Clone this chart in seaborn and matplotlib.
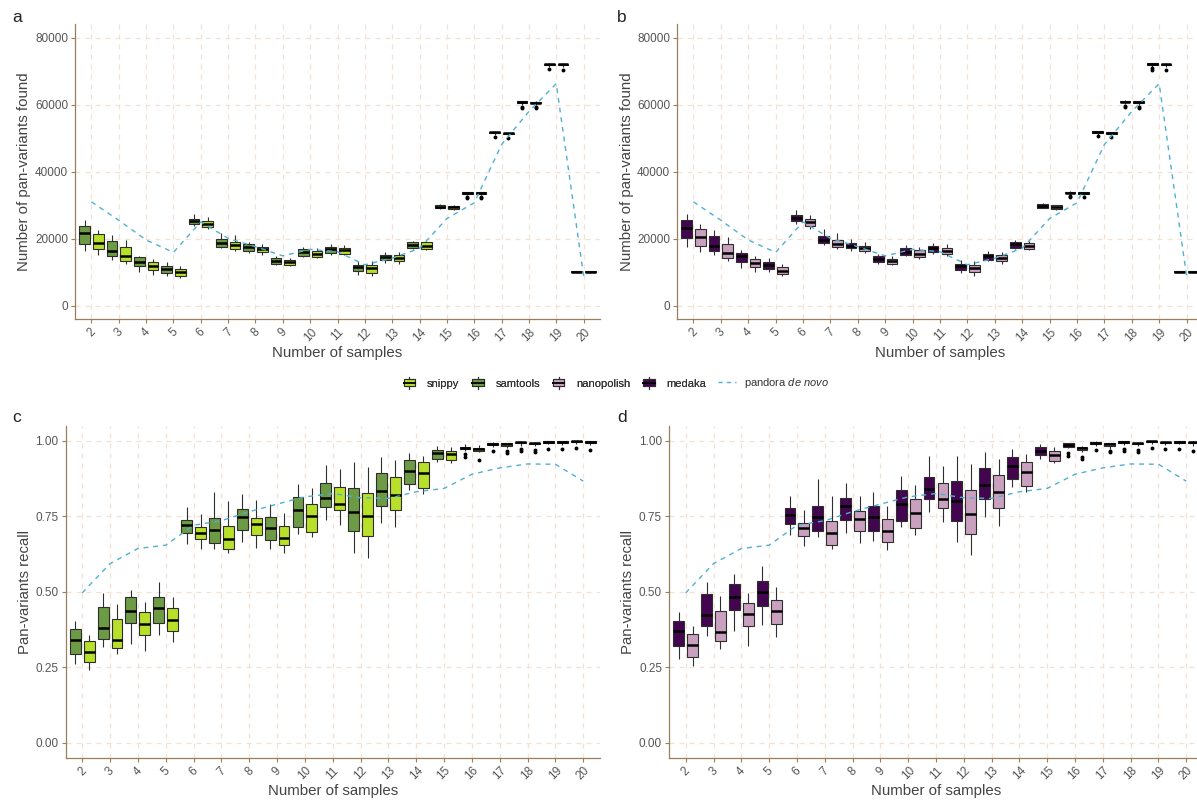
import numpy as np
import pandas as pd
import matplotlib
matplotlib.use("Agg")
import matplotlib.pyplot as plt
import seaborn as sns
from matplotlib.legend_handler import HandlerBase
from matplotlib.patches import Rectangle
from matplotlib.lines import Line2D

plt.rcParams['font.family'] = ['Liberation Sans', 'DejaVu Sans']
plt.rcParams['mathtext.fontset'] = 'custom'
plt.rcParams['mathtext.it'] = 'Liberation Sans:italic'
plt.rcParams['mathtext.rm'] = 'Liberation Sans'

# ---------------- data ----------------
samples = [str(n) for n in range(2, 21)]
tools = ["snippy", "samtools", "nanopolish", "medaka"]

# box stats per sample count: (lower whisker, Q1, median, Q3, upper whisker)
a_samtools = [(16400, 18500, 21600, 23800, 25500), (13500, 14800, 16400, 19200, 21100),
              (9900, 11800, 13100, 14500, 14900), (8700, 9700, 10900, 11700, 12900),
              (23800, 24400, 25300, 26000, 27500), (17100, 17400, 18800, 19800, 21800),
              (15600, 16400, 17400, 18300, 19100), (12000, 12500, 13400, 14100, 14700),
              (14400, 14700, 16100, 16800, 17600), (15100, 15800, 16800, 17500, 18500),
              (9000, 10200, 11400, 12000, 13200), (12700, 13500, 14500, 15100, 15900),
              (16800, 17100, 18000, 18900, 19200), (28900, 29100, 29600, 30000, 30300),
              (33000, 33400, 33650, 33900, 34000), (51000, 51500, 51750, 52000, 52100),
              (59900, 60500, 60750, 61000, 61100), (71200, 71800, 72050, 72300, 72400),
              (9800, 9950, 10100, 10200, 10300)]
a_snippy = [(15100, 17000, 18800, 21300, 22600), (12500, 13400, 14700, 17400, 19600),
            (9100, 10700, 11900, 13100, 13900), (8100, 8900, 9900, 10900, 11700),
            (22800, 23600, 24500, 25200, 26500), (16400, 16800, 18000, 19100, 21000),
            (15100, 15900, 16800, 17400, 18400), (11700, 12100, 12900, 13600, 14100),
            (14100, 14400, 15400, 16400, 17300), (15000, 15400, 16600, 17100, 18100),
            (8900, 9800, 11200, 12000, 13200), (12500, 13200, 14200, 15000, 15900),
            (16700, 16900, 17900, 18900, 19200), (28700, 28900, 29400, 29900, 30100),
            (32900, 33300, 33550, 33800, 33900), (50700, 51200, 51450, 51700, 51800),
            (59800, 60400, 60650, 60900, 61000), (71200, 71800, 72050, 72300, 72400),
            (9800, 9950, 10100, 10200, 10300)]
b_medaka = [(17600, 20100, 23300, 25500, 27500), (15000, 16300, 17900, 20900, 22600),
            (11200, 13100, 14700, 15600, 16500), (9900, 11000, 12200, 13000, 14200),
            (24400, 25300, 26300, 27100, 28500), (18100, 18600, 19600, 20700, 23000),
            (16300, 17100, 17900, 18800, 20000), (12500, 13000, 14000, 14700, 15300),
            (14700, 15000, 16000, 17200, 18100), (15400, 16100, 17100, 17700, 18800),
            (9700, 10700, 11700, 12400, 13500), (13200, 13700, 14900, 15400, 16400),
            (17000, 17300, 18400, 19100, 19500), (29100, 29300, 29900, 30400, 30600),
            (33100, 33500, 33750, 34000, 34100), (51100, 51600, 51850, 52100, 52200),
            (60100, 60700, 60950, 61200, 61300), (71400, 72000, 72250, 72500, 72600),
            (9800, 9950, 10100, 10200, 10300)]
b_nanopolish = [(16100, 17900, 20600, 22900, 24400), (13400, 14200, 15600, 18500, 20500),
                (9900, 11500, 12700, 14000, 14900), (8700, 9500, 10400, 11500, 12500),
                (23000, 23900, 25000, 25800, 27000), (17000, 17400, 18500, 19600, 21700),
                (15600, 16400, 17300, 17900, 18900), (12000, 12400, 13200, 13900, 14700),
                (14000, 14400, 15400, 16600, 17400), (14900, 15400, 16400, 17200, 18300),
                (8900, 9900, 11100, 12000, 13200), (12500, 13200, 14300, 15000, 16100),
                (16700, 17000, 17900, 18800, 19200), (28600, 28800, 29500, 30000, 30200),
                (32900, 33300, 33550, 33800, 33900), (50800, 51300, 51550, 51800, 51900),
                (59900, 60500, 60750, 61000, 61100), (71200, 71800, 72050, 72300, 72400),
                (9800, 9950, 10100, 10200, 10300)]
c_samtools = [(.259, .293, .339, .375, .402), (.317, .345, .380, .448, .497),
              (.328, .397, .435, .481, .507), (.358, .397, .446, .483, .531),
              (.657, .695, .720, .739, .781), (.643, .662, .704, .743, .829),
              (.663, .704, .749, .775, .823), (.641, .670, .710, .747, .789),
              (.691, .713, .770, .812, .857), (.737, .782, .809, .861, .920),
              (.629, .702, .765, .844, .928), (.726, .783, .833, .892, .945),
              (.836, .855, .901, .935, .960), (.930, .940, .958, .970, .983),
              (.967, .971, .975, .980, .989), (.980, .987, .990, .993, .996),
              (.984, .991, .995, .997, .999), (.988, .994, .997, .999, 1.0),
              (.989, .995, .998, 1.0, 1.0)]
c_snippy = [(.240, .267, .299, .337, .357), (.295, .314, .339, .408, .459),
            (.304, .355, .394, .434, .466), (.333, .371, .407, .445, .481),
            (.643, .674, .694, .713, .757), (.627, .641, .674, .718, .799),
            (.646, .687, .724, .745, .803), (.627, .653, .678, .718, .762),
            (.680, .698, .750, .789, .842), (.722, .770, .792, .846, .906),
            (.613, .684, .750, .828, .914), (.713, .772, .820, .881, .936),
            (.822, .845, .894, .928, .950), (.927, .936, .956, .966, .980),
            (.963, .967, .972, .976, .985), (.975, .983, .988, .991, .994),
            (.981, .988, .992, .994, .997), (.987, .993, .996, .998, .999),
            (.985, .992, .996, .998, .999)]
d_medaka = [(.278, .320, .369, .404, .434), (.352, .386, .422, .492, .533),
            (.370, .439, .483, .526, .557), (.391, .454, .498, .535, .586),
            (.687, .723, .754, .776, .818), (.682, .702, .748, .783, .872),
            (.693, .737, .783, .811, .859), (.667, .701, .746, .783, .829),
            (.713, .735, .792, .836, .884), (.765, .806, .839, .881, .949),
            (.665, .735, .800, .866, .949), (.748, .806, .854, .909, .964),
            (.848, .872, .917, .947, .971), (.941, .951, .966, .978, .989),
            (.977, .980, .987, .991, .993), (.982, .990, .993, .996, .998),
            (.985, .993, .997, .999, 1.0), (.989, .995, .998, 1.0, 1.0),
            (.988, .994, .997, .999, 1.0)]
d_nanopolish = [(.254, .285, .325, .361, .387), (.309, .336, .368, .435, .486),
                (.320, .388, .425, .464, .497), (.351, .392, .435, .471, .515),
                (.651, .684, .711, .728, .772), (.640, .655, .695, .735, .818),
                (.660, .701, .740, .768, .818), (.638, .665, .702, .741, .783),
                (.688, .710, .761, .806, .852), (.731, .778, .806, .859, .915),
                (.623, .692, .758, .836, .922), (.718, .777, .830, .887, .941),
                (.829, .851, .896, .930, .955), (.927, .934, .952, .967, .978),
                (.964, .969, .977, .980, .983), (.974, .983, .988, .991, .994),
                (.982, .989, .992, .994, .997), (.986, .992, .995, .997, .999),
                (.984, .991, .995, .997, .999)]

# outlying points, keyed by sample count
a_samtools_out = {"16": [32500, 32200], "17": [50500], "18": [59400, 59100], "19": [70600]}
a_snippy_out = {"16": [32400, 32100], "17": [50200], "18": [59300, 59000], "19": [70500]}
b_medaka_out = {"16": [32600, 32300], "17": [50600], "18": [59500, 59200], "19": [70900, 70500]}
b_nanopolish_out = {"16": [32400], "17": [50300], "18": [59300, 59000], "19": [70500]}
c_samtools_out = {"16": [.955, .945], "17": [.966], "18": [.972, .965], "19": [.974], "20": [.975]}
c_snippy_out = {"16": [.936], "17": [.965, .960], "18": [.969, .963], "19": [.971], "20": [.968]}
d_medaka_out = {"16": [.958, .949], "17": [.970], "18": [.974, .967], "19": [.976], "20": [.973]}
d_nanopolish_out = {"16": [.947, .938], "17": [.966, .961], "18": [.969, .963], "19": [.971], "20": [.966]}

# pandora de novo
pandora_found = [31000, 25500, 19600, 15900, 25000, 20100, 17600, 14850, 16800, 16100,
                 12200, 14150, 17100, 26000, 30700, 48100, 58000, 66300, 8900]
pandora_recall = [0.496, 0.593, 0.643, 0.654, 0.720, 0.735, 0.765, 0.790, 0.814, 0.825,
                  0.811, 0.809, 0.831, 0.842, 0.889, 0.910, 0.923, 0.922, 0.866]

found_ticks = [0, 20000, 40000, 60000, 80000]
found_ticklabels = ["0", "20000", "40000", "60000", "80000"]
recall_ticks = [0.0, 0.25, 0.5, 0.75, 1.0]
recall_ticklabels = ["0.00", "0.25", "0.50", "0.75", "1.00"]

# ---------------- style ----------------
tool_colors = {"snippy": "#b8df2a", "samtools": "#6c9a45",
               "nanopolish": "#c9a1bf", "medaka": "#43054f"}
pandora_color = "#4fb0d2"
axis_color = "#9b7f5c"
grid_color = "#f2e2d3"
tick_label_color = "#555555"
title_color = "#444444"
edge_color = "#2e2e2e"


def box_values(stats, outliers):
    lo, q1, med, q3, hi = stats
    out_lo = sorted(o for o in outliers if o < q1)
    out_hi = sorted(o for o in outliers if o > q3)
    if not out_lo and not out_hi:
        return [lo, q1, med, q3, hi]
    m = max(len(out_lo), len(out_hi)) + 1
    vals = out_lo + [lo] + [q1] * (m - len(out_lo))
    vals += [med] * (2 * m - 1)
    vals += [q3] * (m - len(out_hi)) + [hi] + out_hi
    return vals


def draw_panel(ax, boxes, outs, hue_order, pandora, ylim, yticks, yticklabels, ylabel,
               ylab_x, xlab_y):
    rows = []
    for tool in hue_order:
        for s, st in zip(samples, boxes[tool]):
            for v in box_values(st, outs[tool].get(s, [])):
                rows.append((s, tool, v))
    df = pd.DataFrame(rows, columns=["samples", "tool", "value"])
    sns.boxplot(data=df, x="samples", y="value", hue="tool", order=samples,
                hue_order=hue_order, palette=tool_colors, width=1.0, gap=0.22,
                saturation=1, linecolor=edge_color, linewidth=0.8, whis=1.5,
                fliersize=1.8, showcaps=False,
                medianprops=dict(color="black", linewidth=1.8),
                flierprops=dict(marker="o", markerfacecolor="black",
                                markeredgecolor="black"),
                legend=False, ax=ax)
    sns.pointplot(x=samples, y=pandora, order=samples, color=pandora_color,
                  linestyle="--", dashes=(3.5, 3.5), linewidth=1.0, marker="",
                  markersize=0, errorbar=None, ax=ax, zorder=5)
    ax.set_xlim(-0.6, 18.6)
    ax.set_ylim(*ylim)
    ax.set_yticks(yticks)
    ax.set_yticklabels(yticklabels)
    ax.set_xticks(range(len(samples)))
    ax.set_xticklabels(samples, rotation=45, ha="center", va="top")
    for sp in ["top", "right"]:
        ax.spines[sp].set_visible(False)
    for sp in ["left", "bottom"]:
        ax.spines[sp].set_color(axis_color)
        ax.spines[sp].set_linewidth(0.9)
    ax.tick_params(axis="both", colors=axis_color, length=3, width=0.8, pad=2,
                   labelcolor=tick_label_color, labelsize=8.5)
    ax.grid(True, axis="both", linestyle=(0, (4, 4)), color=grid_color, linewidth=0.9)
    ax.set_axisbelow(True)
    ax.set_xlabel("Number of samples", fontsize=10.8, color=title_color)
    ax.set_ylabel(ylabel, fontsize=10.8, color=title_color)
    ax.xaxis.set_label_coords(0.5, xlab_y)
    ax.yaxis.set_label_coords(ylab_x, 0.5)


W, H = 1197, 800
fig = plt.figure(figsize=(W / 100, H / 100), dpi=100)

def px_axes(left, right, top, bottom):
    return fig.add_axes([left / W, 1 - bottom / H, (right - left) / W, (bottom - top) / H])

ax_a = px_axes(75, 600, 24.4, 319)
ax_b = px_axes(677, 1203, 24.4, 319)
ax_c = px_axes(65.5, 600, 425.6, 757.8)
ax_d = px_axes(669, 1203, 425.6, 757.8)

draw_panel(ax_a, {"samtools": a_samtools, "snippy": a_snippy},
           {"samtools": a_samtools_out, "snippy": a_snippy_out},
           ["samtools", "snippy"], pandora_found, (-4000, 84000), found_ticks,
           found_ticklabels, "Number of pan-variants found", -0.083, -0.092)
draw_panel(ax_b, {"medaka": b_medaka, "nanopolish": b_nanopolish},
           {"medaka": b_medaka_out, "nanopolish": b_nanopolish_out},
           ["medaka", "nanopolish"], pandora_found, (-4000, 84000), found_ticks,
           found_ticklabels, "Number of pan-variants found", -0.081, -0.092)
draw_panel(ax_c, {"samtools": c_samtools, "snippy": c_snippy},
           {"samtools": c_samtools_out, "snippy": c_snippy_out},
           ["samtools", "snippy"], pandora_recall, (-0.05, 1.05), recall_ticks,
           recall_ticklabels, "Pan-variants recall", -0.063, -0.08)
draw_panel(ax_d, {"medaka": d_medaka, "nanopolish": d_nanopolish},
           {"medaka": d_medaka_out, "nanopolish": d_nanopolish_out},
           ["medaka", "nanopolish"], pandora_recall, (-0.05, 1.05), recall_ticks,
           recall_ticklabels, "Pan-variants recall", -0.063, -0.08)

for lab, x, y in [("a", 12, 17), ("b", 617, 17), ("c", 12, 418), ("d", 617, 418)]:
    fig.text(x / W, 1 - y / H, lab, fontsize=12.5, color="#222222", ha="left", va="center")


# ---------------- legend ----------------
class BoxKey:
    def __init__(self, color):
        self.color = color


class BoxKeyHandler(HandlerBase):
    def create_artists(self, legend, orig_handle, xdescent, ydescent, width, height,
                       fontsize, trans):
        x0, y0 = -xdescent, -ydescent
        w, h = width, height
        rect = Rectangle((x0 + 0.05 * w, y0 + 0.18 * h), 0.9 * w, 0.64 * h,
                         facecolor=orig_handle.color, edgecolor=edge_color, lw=0.8,
                         transform=trans)
        med = Line2D([x0 + 0.05 * w, x0 + 0.95 * w], [y0 + 0.5 * h] * 2, color="black",
                     lw=1.3, transform=trans)
        w1 = Line2D([x0 + 0.5 * w] * 2, [y0 - 0.05 * h, y0 + 0.18 * h], color=edge_color,
                    lw=0.8, transform=trans)
        w2 = Line2D([x0 + 0.5 * w] * 2, [y0 + 0.82 * h, y0 + 1.05 * h], color=edge_color,
                    lw=0.8, transform=trans)
        return [rect, med, w1, w2]


handles = [BoxKey(tool_colors[t]) for t in tools]
leg1 = fig.legend(handles, tools, handler_map={BoxKey: BoxKeyHandler()},
                  loc="center left", bbox_to_anchor=(393 / W, 1 - 383 / H), ncol=4,
                  frameon=False, fontsize=8, handlelength=1.15, handleheight=1.15,
                  handletextpad=1.0, columnspacing=1.1, labelcolor="#333333")
line_handle = Line2D([], [], color=pandora_color, linestyle="--", dashes=(3, 3), lw=1.0)
leg2 = fig.legend([line_handle], [r"pandora $\it{de\ novo}$"], loc="center left",
                  bbox_to_anchor=(708 / W, 1 - 383 / H), frameon=False, fontsize=8,
                  handlelength=1.6, handletextpad=0.7, labelcolor="#333333")
fig.add_artist(leg1)

fig.savefig("out.png", dpi=100)
